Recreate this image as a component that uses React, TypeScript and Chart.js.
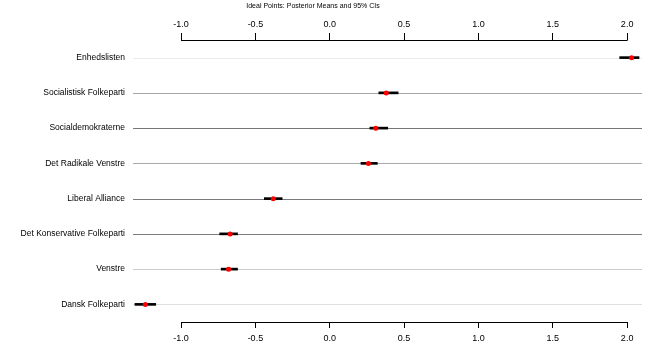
import React, { useEffect, useRef } from "react";
import { Chart, registerables } from "chart.js";

Chart.register(...registerables);

const parties = [
  "Enhedslisten",
  "Socialistisk Folkeparti",
  "Socialdemokraterne",
  "Det Radikale Venstre",
  "Liberal Alliance",
  "Det Konservative Folkeparti",
  "Venstre",
  "Dansk Folkeparti",
];
const posteriorMeans = [2.03, 0.38, 0.31, 0.26, -0.38, -0.67, -0.68, -1.24];
const ciLower = [1.95, 0.33, 0.27, 0.21, -0.44, -0.74, -0.73, -1.31];
const ciUpper = [2.08, 0.46, 0.39, 0.32, -0.32, -0.62, -0.62, -1.17];
const tickValues = [-1.0, -0.5, 0.0, 0.5, 1.0, 1.5, 2.0];
const rowLineColors = ["#ebebeb", "#a6a6a6", "#767676", "#a9a9a9", "#7a7a7a", "#7d7d7d", "#cbcbcb", "#e0e0e0"];
const xMin = -1.323;
const xMax = 2.1;
const title = "Ideal Points: Posterior Means and 95% CIs";
const FONT = "'Liberation Sans', Arial, sans-serif";

const rowLinesPlugin = {
  id: "rowLines",
  beforeDatasetsDraw(chart: any) {
    const { ctx, chartArea, scales } = chart;
    const ys = scales.y;
    ctx.save();
    ctx.lineWidth = 1;
    parties.forEach((_, i) => {
      const y = Math.round(ys.getPixelForValue(i)) + 0.5;
      ctx.strokeStyle = rowLineColors[i];
      ctx.beginPath();
      ctx.moveTo(chartArea.left, y);
      ctx.lineTo(chartArea.right, y);
      ctx.stroke();
    });
    ctx.restore();
  },
  afterDraw(chart: any) {
    const { ctx, chartArea, scales } = chart;
    ctx.save();
    ctx.lineWidth = 1;
    const first = tickValues[0];
    const last = tickValues[tickValues.length - 1];
    ctx.strokeStyle = "#000";
    const xb = scales.x;
    ctx.beginPath();
    ctx.moveTo(xb.getPixelForValue(first), Math.round(chartArea.bottom) + 0.5);
    ctx.lineTo(xb.getPixelForValue(last) + 0.5, Math.round(chartArea.bottom) + 0.5);
    ctx.stroke();
    const xt = scales.x2;
    ctx.beginPath();
    ctx.moveTo(xt.getPixelForValue(first), Math.round(chartArea.top) + 0.5);
    ctx.lineTo(xt.getPixelForValue(last) + 0.5, Math.round(chartArea.top) + 0.5);
    ctx.stroke();
    ctx.fillStyle = "#000";
    ctx.font = `7px ${FONT}`;
    ctx.textAlign = "center";
    ctx.textBaseline = "middle";
    ctx.fillText(title, 313, 6);
    ctx.restore();
  },
};

export default function App() {
  const ref = useRef<HTMLCanvasElement>(null);
  useEffect(() => {
    if (!ref.current) return;
    const setTicks = (scale: any) => {
      scale.ticks = tickValues.map((v) => ({ value: v }));
    };
    const chart = new Chart(ref.current, {
      type: "bar",
      data: {
        labels: parties,
        datasets: [
          {
            type: "bar",
            data: parties.map((_, i) => [ciLower[i], ciUpper[i]]) as any,
            backgroundColor: "#000",
            barThickness: 2,
            xAxisID: "x",
            yAxisID: "y",
            order: 2,
          },
          {
            type: "line",
            data: posteriorMeans as any,
            showLine: false,
            pointRadius: 2.5,
            pointBackgroundColor: "#ff0000",
            pointBorderWidth: 0,
            indexAxis: "y",
            xAxisID: "x",
            yAxisID: "y",
            order: 1,
          } as any,
        ],
      },
      options: {
        indexAxis: "y",
        animation: false,
        responsive: false,
        maintainAspectRatio: false,
        layout: { padding: { left: 0, right: 8, top: 0, bottom: 0 } },
        plugins: { legend: { display: false }, tooltip: { enabled: false }, title: { display: false } },
        scales: {
          x: {
            type: "linear",
            position: "bottom",
            min: xMin,
            max: xMax,
            afterBuildTicks: setTicks,
            afterFit: (s: any) => {
              s.height = 29;
            },
            border: { display: false },
            grid: { drawOnChartArea: false, drawTicks: true, tickLength: 6, color: "#000" },
            ticks: {
              font: { family: FONT, size: 9 },
              color: "#000",
              padding: 5,
              maxRotation: 0,
              callback: (v: any) => Number(v).toFixed(1),
            },
          },
          x2: {
            type: "linear",
            position: "top",
            min: xMin,
            max: xMax,
            afterBuildTicks: setTicks,
            afterFit: (s: any) => {
              s.height = 40;
            },
            border: { display: false },
            grid: { drawOnChartArea: false, drawTicks: true, tickLength: 7, color: "#000" },
            ticks: {
              font: { family: FONT, size: 9 },
              color: "#000",
              padding: 3,
              maxRotation: 0,
              callback: (v: any) => Number(v).toFixed(1),
            },
          },
          y: {
            type: "category",
            position: "left",
            offset: true,
            afterFit: (s: any) => {
              s.width = 133;
            },
            border: { display: false },
            grid: { display: false, drawTicks: false },
            ticks: { font: { family: FONT, size: 8.5 }, color: "#000", padding: 8 },
          },
        },
      },
      plugins: [rowLinesPlugin],
    });
    return () => chart.destroy();
  }, []);
  return (
    <div style={{ position: "absolute", left: 0, top: 0, width: 650, height: 351, background: "#fff" }}>
      <canvas ref={ref} width={650} height={351} />
    </div>
  );
}
